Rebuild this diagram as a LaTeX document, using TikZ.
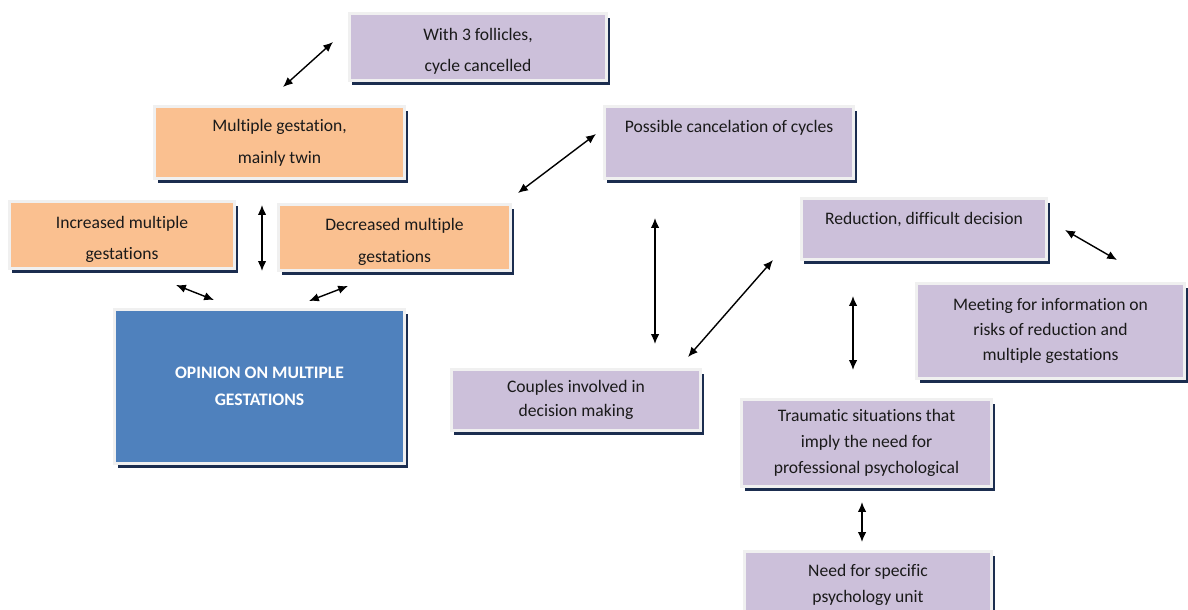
\documentclass[tikz,border=0pt]{standalone}
\usepackage{fontspec}
\setmainfont{Carlito}[Ligatures=NoCommon]
\usetikzlibrary{arrows.meta}

\definecolor{lilac}{HTML}{CCC0DA}
\definecolor{peach}{HTML}{FAC090}
\definecolor{steel}{HTML}{4F81BD}
\definecolor{navy}{HTML}{1B2D4F}
\definecolor{framegray}{HTML}{F0F0F0}
\definecolor{ink}{HTML}{1A1A1A}

\newcommand{\boxgap}{\rule{0pt}{15pt}}

\tikzset{
  box/.style={rectangle, draw=framegray, line width=2.2pt, align=center, inner sep=2pt,
    text=ink, font=\fontsize{12.5}{22.5}\selectfont,
    preaction={fill=navy, transform canvas={shift={(2.2pt,-3pt)}}}},
  lilacbox/.style={box, fill=lilac},
  peachbox/.style={box, fill=peach},
  link/.style={{Latex[length=7pt,width=6pt]}-{Latex[length=7pt,width=6pt]}, line width=1pt}
}

\begin{document}
\begin{tikzpicture}[x=0.025cm,y=-0.025cm]
\useasboundingbox (0,0) rectangle (1188,610);
\clip (0,0) rectangle (1188,610);

% left side
\node[lilacbox, minimum width=6.43cm, minimum height=1.68cm] (follicles) at (478,47) {\boxgap With 3 follicles,\\cycle cancelled};
\node[peachbox, minimum width=6.25cm, minimum height=1.8cm] (twins) at (279.5,142.5) {Multiple gestation,\\mainly twin};
\node[peachbox, minimum width=5.63cm, minimum height=1.68cm] (increased) at (122,235) {\boxgap Increased multiple\\gestations};
\node[peachbox, minimum width=5.8cm, minimum height=1.65cm] (decreased) at (394.5,237.5) {\boxgap Decreased multiple\\gestations};
\node[box, fill=steel, text=white, minimum width=7.25cm, minimum height=3.85cm,
  font=\bfseries\fontsize{12.5}{19}\selectfont] (opinion) at (259.5,386.5) {OPINION ON MULTIPLE\\GESTATIONS};

% right side
\node[lilacbox, minimum width=6.23cm, minimum height=1.8cm] (cancel) at (729,142.5) {\boxgap Possible cancelation of cycles\\\strut};
\node[lilacbox, minimum width=6.13cm, minimum height=1.53cm, font=\fontsize{12.5}{17}\selectfont] (reduction) at (924,229) {\boxgap Reduction, difficult decision\\\strut};
\node[lilacbox, minimum width=6.7cm, minimum height=2.38cm, font=\fontsize{12.5}{18}\selectfont] (meeting) at (1050.5,331) {Meeting for information on\\risks of reduction and\\multiple gestations};
\node[lilacbox, minimum width=6.23cm, minimum height=1.53cm, font=\fontsize{12.5}{17}\selectfont] (couples) at (576,400) {Couples involved in\\decision making};
\node[lilacbox, minimum width=6.25cm, minimum height=2.18cm, font=\fontsize{12.5}{18.5}\selectfont] (trauma) at (866.5,443) {Traumatic situations that\\imply the need for\\professional psychological};
\node[lilacbox, minimum width=6.18cm, minimum height=1.68cm, font=\fontsize{12.5}{18}\selectfont] (unit) at (868,585) {Need for specific\\psychology unit};

% arrow ends
\coordinate (fol1) at (283,87);  \coordinate (fol2) at (333,42);
\coordinate (twi1) at (262,205); \coordinate (twi2) at (262,271);
\coordinate (inc1) at (176,285); \coordinate (inc2) at (214,300);
\coordinate (dec1) at (309,301); \coordinate (dec2) at (348,286);
\coordinate (can1) at (518,193); \coordinate (can2) at (596,134);
\coordinate (cou1) at (655,218); \coordinate (cou2) at (655,344);
\coordinate (red1) at (688,357); \coordinate (red2) at (773,260);
\coordinate (mee1) at (1065,230); \coordinate (mee2) at (1117,260);
\coordinate (tra1) at (853,296); \coordinate (tra2) at (853,370);
\coordinate (uni1) at (862,502); \coordinate (uni2) at (862,542);

\draw[link] (fol1) -- (fol2);
\draw[link] (twi1) -- (twi2);
\draw[link] (inc1) -- (inc2);
\draw[link] (dec1) -- (dec2);
\draw[link] (can1) -- (can2);
\draw[link] (cou1) -- (cou2);
\draw[link] (red1) -- (red2);
\draw[link] (mee1) -- (mee2);
\draw[link] (tra1) -- (tra2);
\draw[link] (uni1) -- (uni2);
\end{tikzpicture}
\end{document}
